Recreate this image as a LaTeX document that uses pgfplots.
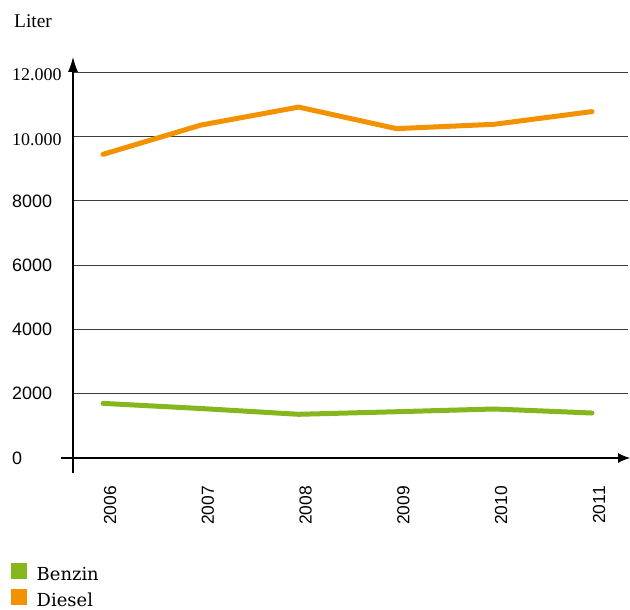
\documentclass[border=0pt]{standalone}
\usepackage{fontspec}
\setmainfont{Liberation Serif}
\newfontfamily\sansf{Liberation Sans}
\newfontfamily\slab{DejaVu Serif}
\usepackage{pgfplots}
\pgfplotsset{compat=1.18}
\usetikzlibrary{arrows.meta}
\definecolor{benzin}{RGB}{134,182,29}
\definecolor{diesel}{RGB}{243,146,0}
\definecolor{gridc}{RGB}{60,60,60}

\begin{document}
\begin{tikzpicture}
\path[use as bounding box] (-73bp,-152bp) rectangle (557bp,458bp);
\begin{axis}[
  at={(0,0)}, anchor=south west,
  scale only axis, width=555bp, height=385.6bp,
  xmin=2005.693, xmax=2011.368,
  ymin=0, ymax=12000,
  clip=false,
  scaled y ticks=false, scaled x ticks=false,
  axis x line*=bottom, axis y line*=left,
  axis line style={draw=none},
  major tick length=0pt,
  ymajorgrids, grid style={gridc, line width=1bp},
  ytick={0,2000,4000,6000,8000,10000,12000},
  yticklabels={{\sansf 0},{\sansf 2000},{\sansf 4000},{\sansf 6000},{\sansf 8000},
    {\raisebox{-2.5bp}[\height][\depth]{10.000}},{\raisebox{-2.5bp}[\height][\depth]{12.000}}},
  yticklabel style={font=\fontsize{18}{20}\selectfont, anchor=west, inner sep=0pt, xshift=-61bp},
  xtick={2006,2007,2008,2009,2010,2011},
  xticklabels={2006,2007,2008,2009,2010,2011},
  xticklabel style={font=\sansf\fontsize{17.5}{18}\selectfont, inner sep=0pt,
    xshift=7bp, yshift=-28bp, rotate=90, anchor=east},
  legend style={at={(axis description cs:-0.1117,-0.272)}, anchor=north west,
    draw=none, fill=none, inner sep=0pt, row sep=6.5bp,
    font=\slab\fontsize{18}{20}\selectfont,
    nodes={inner sep=0pt}},
  legend cell align=left,
  legend image code/.code={\fill[#1, draw=none] (0bp,-4bp) rectangle (16bp,12bp);
    \path (23bp,0bp);},
]
% Benzin
\addplot[benzin, line width=5bp, line cap=round, line join=round]
  coordinates {(2006,1700) (2007,1540) (2008,1360) (2009,1440) (2010,1525) (2011,1400)};
\addlegendentry{Benzin}
% Diesel
\addplot[diesel, line width=5bp, line cap=round, line join=round]
  coordinates {(2006,9450) (2007,10360) (2008,10920) (2009,10250) (2010,10385) (2011,10780)};
\addlegendentry{Diesel}
% axes with arrows
\draw[black, line width=1.2bp, -{Latex[length=15bp,width=10bp]}]
  (axis cs:2005.693,-467) -- (axis cs:2005.693,12480);
\draw[black, line width=1.2bp, -{Latex[length=12bp,width=10bp]}]
  (axis cs:2005.57,0) -- (axis cs:2011.389,0);
\end{axis}
\node[anchor=base west, inner sep=0pt, font=\fontsize{19.5}{20}\selectfont] at (-59bp,430bp) {Liter};
\end{tikzpicture}
\end{document}
